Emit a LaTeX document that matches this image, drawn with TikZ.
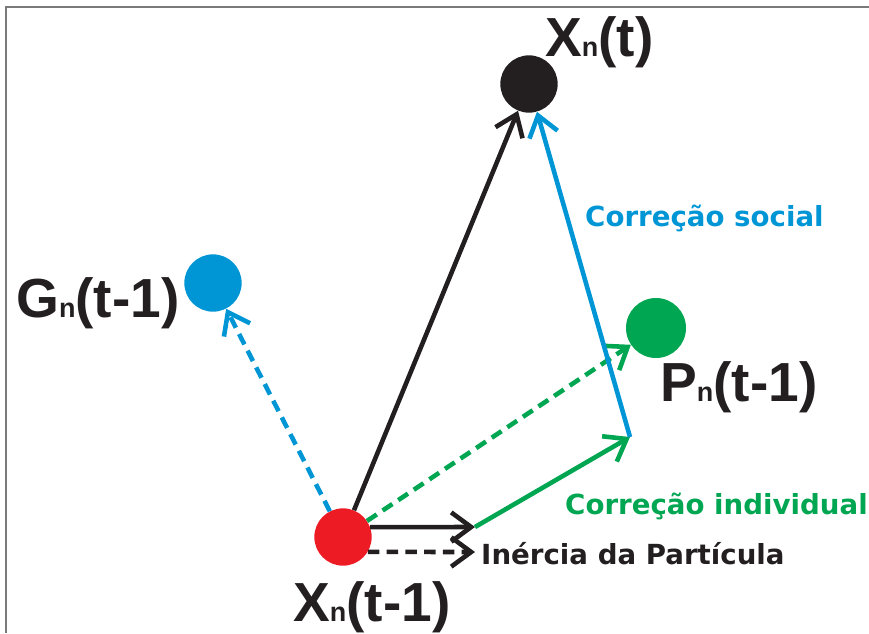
\documentclass[tikz,border=0pt]{standalone}
\usepackage{fontspec}
\setmainfont{Liberation Sans}
\newfontfamily\smallfont{DejaVu Sans}
\usetikzlibrary{arrows.meta}

\definecolor{psored}{HTML}{ED1C24}
\definecolor{psoblack}{HTML}{231F20}
\definecolor{psoblue}{HTML}{0096D6}
\definecolor{psogreen}{HTML}{00A651}
\definecolor{framegray}{HTML}{7A7A7A}

\newcommand{\sub}[1]{{\fontsize{23}{23}\selectfont #1}}

\tikzset{
    particle/.style={circle, inner sep=0pt, minimum size=1.72cm},
    vec/.style={line width=3.9pt, -{Straight Barb[length=17pt, width=25pt]}},
    dashvec/.style={vec, dash pattern=on 10pt off 6pt},
    biglabel/.style={anchor=base west, inner sep=0pt, text=psoblack,
        font=\fontsize{47}{54}\selectfont\bfseries},
    smalllabel/.style={anchor=base west, inner sep=0pt,
        font=\smallfont\fontsize{23.6}{27}\selectfont\bfseries}
}

\begin{document}
\begin{tikzpicture}[x=0.03cm, y=-0.03cm]
    \useasboundingbox (0,0) rectangle (869,633);

    % Frame
    \draw[framegray, line width=1.6pt] (6,633) -- (6,7) -- (869,7);

    % Particles
    \node[particle, fill=psored] (xp) at (343,537) {};
    \node[particle, fill=psoblack] (xt) at (529,84) {};
    \node[particle, fill=psoblue] (gb) at (213,283) {};
    \node[particle, fill=psogreen, minimum size=1.8cm] (pb) at (656,328) {};

    % Vector end points
    \coordinate (inert) at (475,527);
    \coordinate (inertd) at (475,552);
    \coordinate (corr) at (630,437);

    % Dashed components
    \draw[dashvec, psoblue] (xp) -- (gb);
    \draw[dashvec, psogreen] (xp) -- (pb);
    \draw[dashvec, psoblack] (xp.-31) -- (inertd);

    % Velocity update
    \draw[vec, psoblack] (xp.20) -- (inert);
    \draw[vec, psogreen] (inert) -- (corr);
    \draw[vec, psoblue] (corr) -- (xt);
    \draw[vec, psoblack] (xp) -- (xt);

    % Labels
    \node[biglabel] (lxt) at (545,56) {X\sub{n}(t)};
    \node[biglabel] (lxp) at (293,621) {X\sub{n}(t-1)};
    \node[biglabel] (lgb) at (16,317) {G\sub{n}(t-1)};
    \node[biglabel] (lpb) at (660,401) {P\sub{n}(t-1)};
    \node[smalllabel, text=psoblue] (lsoc) at (585,226) {Correção social};
    \node[smalllabel, text=psogreen] (lind) at (565,514) {Correção individual};
    \node[smalllabel, text=psoblack] (lin) at (481,564) {Inércia da Partícula};
\end{tikzpicture}
\end{document}
